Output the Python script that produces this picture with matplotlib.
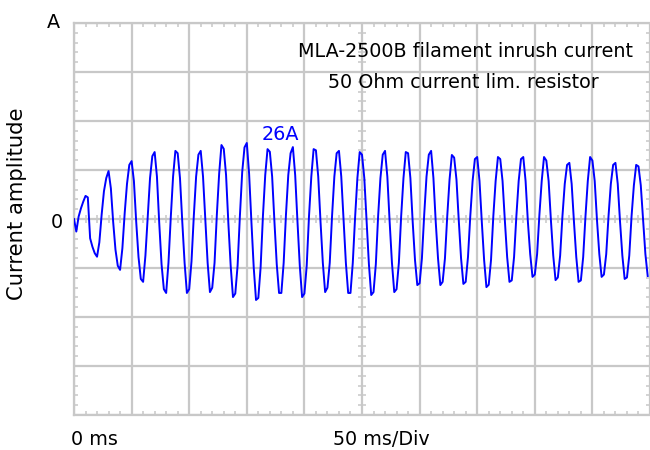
import matplotlib
matplotlib.use("Agg")
import matplotlib.pyplot as plt
import numpy as np
from matplotlib.ticker import MultipleLocator

# ---------------- data ----------------
sample_ms = 2.0  # sampling interval of the recorded trace
# current samples in A, one row per 20 ms mains cycle
current_a = [
    0.0, -4.3, 0.8, 3.6, 5.9, 7.9, 7.4, -6.6, -9.5, -11.7,
    -12.9, -8.0, 1.5, 9.5, 14.0, 16.4, 10.5, -1.0, -10.5, -16.0,
    -17.4, -10.0, 2.0, 12.0, 18.5, 19.8, 13.0, -1.0, -13.0, -20.5,
    -21.5, -12.5, 1.0, 14.0, 21.5, 22.9, 14.5, -1.5, -15.5, -24.0,
    -25.3, -15.0, 0.5, 14.5, 23.3, 22.5, 14.0, -1.0, -15.0, -25.3,
    -24.0, -14.5, 1.0, 14.5, 22.0, 23.3, 14.5, -0.5, -15.0, -25.0,
    -23.5, -15.0, 1.5, 15.5, 25.3, 24.0, 15.0, -1.5, -16.0, -26.7,
    -25.5, -16.0, 1.0, 16.0, 24.5, 26.0, 15.5, -1.0, -16.5, -27.7,
    -27.0, -16.5, 1.0, 15.0, 23.9, 23.0, 14.5, -1.0, -15.5, -25.3,
    -25.3, -15.0, 1.5, 15.0, 22.5, 24.6, 15.0, -1.0, -16.0, -26.7,
    -25.5, -16.0, 1.0, 14.5, 23.9, 23.5, 14.5, -1.0, -15.0, -25.0,
    -23.5, -15.0, 1.0, 14.5, 22.5, 23.3, 14.5, -0.5, -15.0, -25.3,
    -25.3, -15.0, 0.5, 14.0, 22.9, 22.0, 14.0, -1.0, -15.5, -26.0,
    -25.0, -15.5, 1.0, 14.0, 22.0, 23.3, 14.5, -1.0, -15.0, -25.0,
    -24.0, -15.0, 1.0, 14.0, 22.9, 22.5, 14.0, -1.0, -14.0, -22.6,
    -22.0, -13.5, 1.5, 14.5, 22.0, 23.3, 14.0, -1.0, -13.5, -22.6,
    -21.5, -13.5, 1.0, 13.5, 21.9, 21.0, 13.5, -0.5, -13.5, -22.2,
    -21.5, -13.0, 1.0, 13.0, 20.5, 21.2, 13.0, -1.0, -14.0, -23.3,
    -22.5, -14.0, 1.0, 13.0, 21.2, 20.5, 13.0, -0.5, -13.0, -21.5,
    -21.0, -13.0, 1.0, 13.0, 20.5, 21.2, 13.0, -1.0, -12.0, -19.8,
    -19.0, -12.0, 1.5, 13.0, 21.2, 20.0, 13.0, -0.5, -12.5, -20.9,
    -20.0, -12.5, 1.0, 12.0, 18.5, 19.2, 12.0, -1.0, -13.0, -21.5,
    -21.0, -13.0, 1.0, 13.0, 21.2, 20.0, 13.0, -0.5, -12.0, -19.8,
    -19.0, -12.0, 1.0, 12.0, 18.5, 19.2, 12.0, -1.0, -12.5, -20.5,
    -20.0, -12.5, 1.0, 11.5, 18.5, 18.0, 11.5, -0.5, -12.0, -19.5,
]
time_ms = np.arange(len(current_a)) * sample_ms

title_lines = ["MLA-2500B filament inrush current", "50 Ohm current lim. resistor"]
peak_label = "26A"
y_unit = "A"
y_zero_label = "0"
y_title = "Current amplitude"
x_start_label = "0 ms"
x_scale_label = "50 ms/Div"

# ---------------- styling ----------------
ms_per_div = 50
a_per_div = 16.76
n_xdiv, n_ydiv = 10, 8
GRID = "#c8c8c8"
BLUE = "#0000ff"
FONT = "DejaVu Sans"
W, H = 650, 450

plt.rcParams["font.family"] = [FONT]

fig = plt.figure(figsize=(W / 100, H / 100), dpi=100)
L, R, T, B = 74, 650, 23, 415
ax = fig.add_axes([L / W, 1 - B / H, (R - L) / W, (B - T) / H])
ax.set_xlim(0, n_xdiv * ms_per_div)
ax.set_ylim(-n_ydiv / 2 * a_per_div, n_ydiv / 2 * a_per_div)

ax.xaxis.set_major_locator(MultipleLocator(ms_per_div))
ax.xaxis.set_minor_locator(MultipleLocator(ms_per_div / 5))
ax.yaxis.set_major_locator(MultipleLocator(a_per_div))
ax.yaxis.set_minor_locator(MultipleLocator(a_per_div / 5))
ax.grid(which="major", color=GRID, lw=1.6)
ax.set_axisbelow(True)
ax.tick_params(which="major", length=0, labelbottom=False, labelleft=False)
ax.tick_params(which="minor", direction="in", length=3, width=1.1, color=GRID,
               top=True, right=True, bottom=True, left=True)
for s in ["top", "left", "bottom"]:
    ax.spines[s].set_color(GRID)
    ax.spines[s].set_linewidth(1.6)
ax.spines["right"].set_visible(False)

# graduated centre cross
xc = n_xdiv * ms_per_div / 2
xm = [v for v in ax.xaxis.get_minorticklocs() if 0 < v < n_xdiv * ms_per_div]
ym = [v for v in ax.yaxis.get_minorticklocs()
      if abs(v) < n_ydiv / 2 * a_per_div - 1e-6]
ax.plot(xm, np.zeros(len(xm)), ls="none", marker="|", ms=5.5, mew=1.1,
        color=GRID, zorder=1)
ax.plot(np.full(len(ym), xc), ym, ls="none", marker="_", ms=5.5, mew=1.1,
        color=GRID, zorder=1)

ax.plot(time_ms, current_a, color=BLUE, lw=1.4, zorder=3)


def px(x, y):
    return x / W, 1 - y / H


fs = 13.8
fig.text(*px(53, 28), y_unit, fontsize=fs, ha="center", va="baseline")
fig.text(*px(57, 228), y_zero_label, fontsize=fs, ha="center", va="baseline")
fig.text(*px(17, 204), y_title, fontsize=15.2, ha="center", va="center",
         rotation=90)
fig.text(*px(71, 445), x_start_label, fontsize=fs, ha="left", va="baseline")
fig.text(*px(381, 445), x_scale_label, fontsize=fs, ha="center", va="baseline")
fig.text(*px(465, 57), title_lines[0], fontsize=fs, ha="center", va="baseline")
fig.text(*px(463, 88), title_lines[1], fontsize=fs, ha="center", va="baseline")
fig.text(*px(280, 140), peak_label, fontsize=fs, ha="center", va="baseline",
         color=BLUE)

fig.savefig("out.png", dpi=100)
